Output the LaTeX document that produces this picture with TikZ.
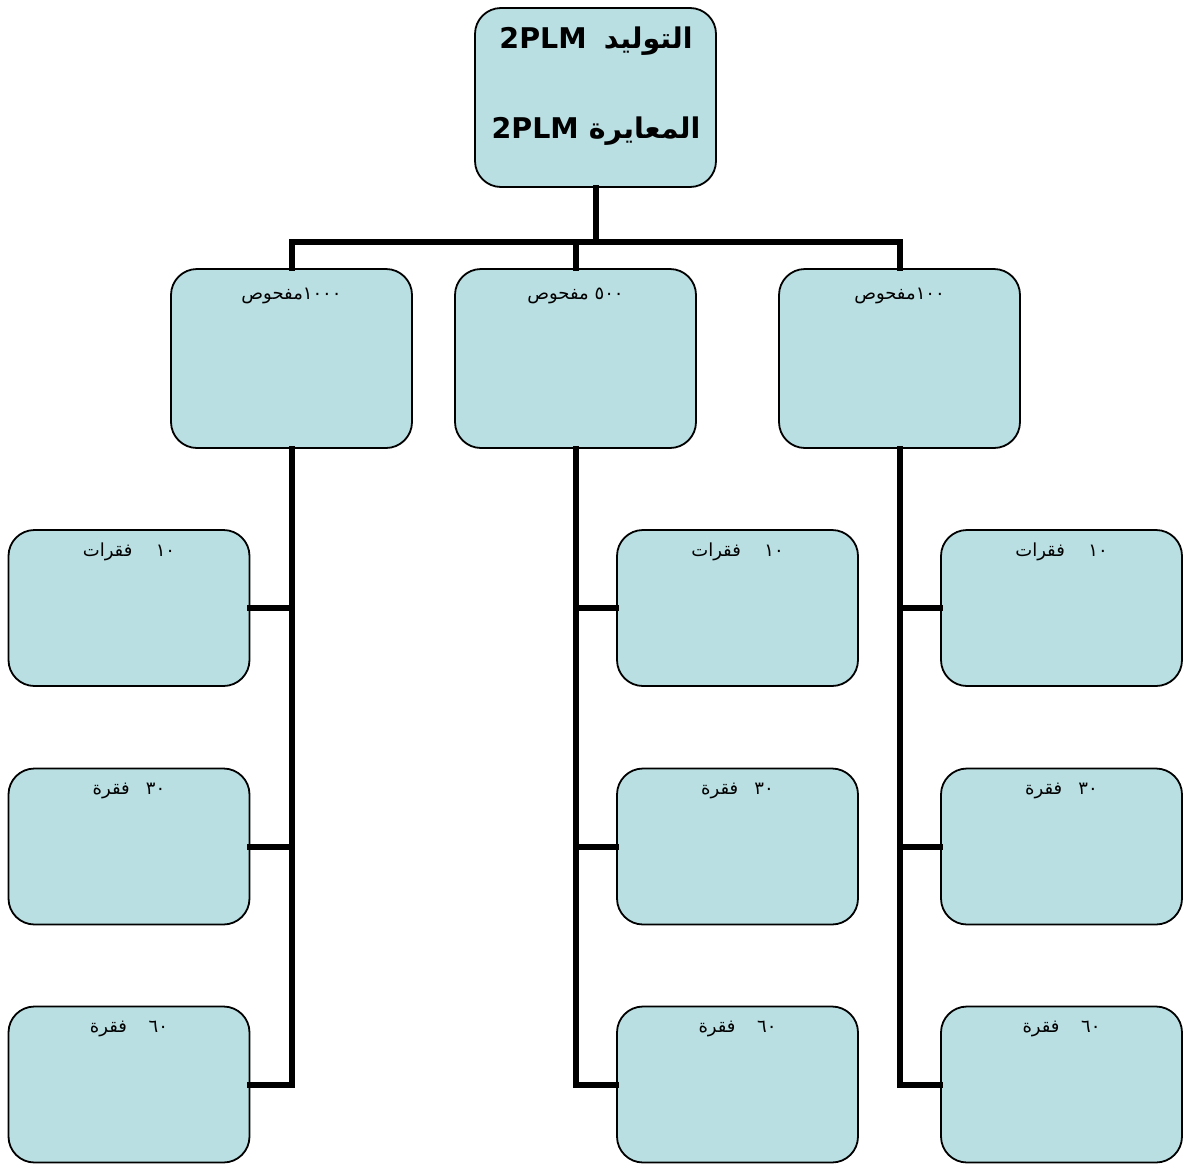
\documentclass[tikz,border=0pt]{standalone}
\usepackage{fontspec}
\newfontfamily\arabicfont[Script=Arabic]{DejaVu Sans}
\TeXXeTstate=1
\definecolor{boxfill}{RGB}{185,223,227}
\begin{document}
\begin{tikzpicture}[x=1pt,y=-1pt,
  box/.style={draw=black, line width=1.8pt, fill=boxfill, rounded corners=26pt, inner sep=0pt, minimum width=241pt},
  bigbox/.style={box, minimum height=179pt},
  smallbox/.style={box, minimum height=156pt},
  lbl/.style={font=\arabicfont\fontsize{18}{21}\selectfont, anchor=base, inner sep=0pt},
  title/.style={font=\arabicfont\bfseries\fontsize{28.5}{34}\selectfont, anchor=base, inner sep=0pt},
  conn/.style={line width=6pt, line join=miter, line cap=rect}]
\useasboundingbox (0,0) rectangle (1185,1170);

% top
\node[bigbox] (top) at (595.5,97.5) {};
\node[title] (t1) at (596,48) {\beginR التوليد\hspace{0.6em}\beginL 2PLM\endL\endR};
\node[title] (t2) at (596,138) {\beginR المعايرة \beginL 2PLM\endL\endR};

% level 2
\node[bigbox] (A) at (291.5,358.5) {};
\node[bigbox] (B) at (575.5,358.5) {};
\node[bigbox] (C) at (899.5,358.5) {};
\node[lbl] (la) at ([yshift=-31pt]A.north) {\beginR\beginL ١٠٠٠\endL مفحوص\endR};
\node[lbl] (lb) at ([yshift=-31pt]B.north) {\beginR\beginL ٥٠٠\endL{} مفحوص\endR};
\node[lbl] (lc) at ([yshift=-31pt]C.north) {\beginR\beginL ١٠٠\endL مفحوص\endR};

% children
\foreach \n/\x in {A/129,B/737.5,C/1061.5}{
  \node[smallbox] (\n1) at (\x,608) {};
  \node[smallbox] (\n2) at (\x,846.5) {};
  \node[smallbox] (\n3) at (\x,1084.5) {};
  \node[lbl] (\n1l) at ([yshift=-27pt]\n1.north) {\beginR\beginL ١٠\endL\hspace{1.3em}فقرات\endR};
  \node[lbl] (\n2l) at ([yshift=-27pt]\n2.north) {\beginR\beginL ٣٠\endL\hspace{0.9em}فقرة\endR};
  \node[lbl] (\n3l) at ([yshift=-27pt]\n3.north) {\beginR\beginL ٦٠\endL\hspace{1.2em}فقرة\endR};
}

% connectors
\coordinate (bar) at (596,242);
\draw[conn] (top.south) -- (top.south |- bar);
\draw[conn] (A.north) -- (A.north |- bar) -| (C.north);
\draw[conn] (B.north) -- (B.north |- bar);

\draw[conn] (A.south) -- (A.south |- A3.east) -- (A3.east);
\draw[conn] (A1.east) -- (A1.east -| A.south);
\draw[conn] (A2.east) -- (A2.east -| A.south);

\draw[conn] (B.south) -- (B.south |- B3.west) -- (B3.west);
\draw[conn] (B1.west) -- (B1.west -| B.south);
\draw[conn] (B2.west) -- (B2.west -| B.south);

\draw[conn] (C.south) -- (C.south |- C3.west) -- (C3.west);
\draw[conn] (C1.west) -- (C1.west -| C.south);
\draw[conn] (C2.west) -- (C2.west -| C.south);
\end{tikzpicture}
\end{document}
